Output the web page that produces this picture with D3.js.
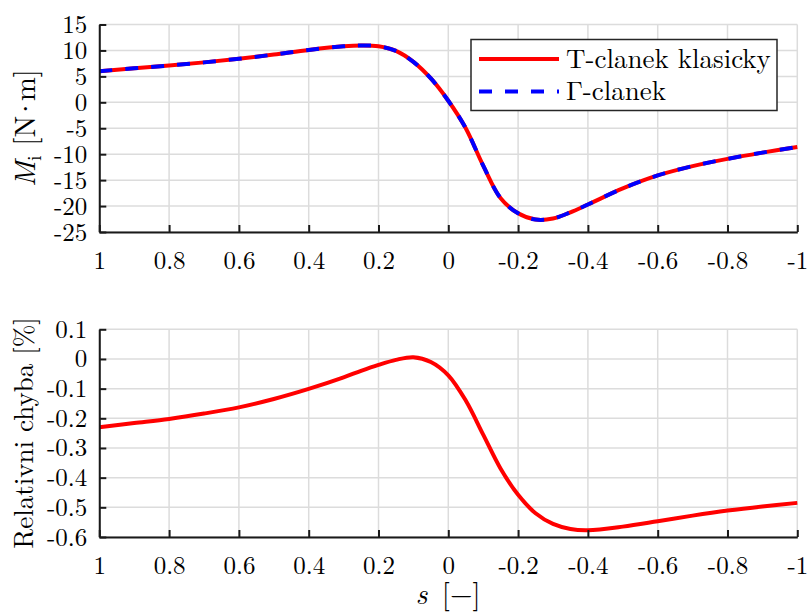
<!DOCTYPE html>
<html><head><meta charset="utf-8">
<script src="https://cdn.jsdelivr.net/npm/d3@7"></script>
</head>
<body style="margin:0;background:#fff">
<svg id="c" width="808" height="612"></svg>
<script>
// ---- data ----
const sValues = [1, 0.9, 0.8, 0.7, 0.6, 0.5, 0.4, 0.3, 0.25, 0.2, 0.15, 0.1, 0.05, 0, -0.05, -0.1, -0.15, -0.2, -0.25, -0.3, -0.35, -0.4, -0.5, -0.6, -0.7, -0.8, -0.9, -1];
const mT = [6.0, 6.55, 7.1, 7.7, 8.4, 9.2, 10.1, 10.8, 10.95, 10.8, 9.9, 7.8, 4.6, 0.3, -5.0, -12.2, -18.5, -21.4, -22.6, -22.4, -21.2, -19.7, -16.6, -14.1, -12.3, -10.9, -9.7, -8.6];
const mGamma = [6.0, 6.55, 7.1, 7.7, 8.4, 9.2, 10.1, 10.8, 10.95, 10.8, 9.9, 7.8, 4.6, 0.3, -5.0, -12.2, -18.5, -21.4, -22.6, -22.4, -21.2, -19.7, -16.6, -14.1, -12.3, -10.9, -9.7, -8.6];
const relErr = [-0.230, -0.216, -0.202, -0.184, -0.163, -0.135, -0.101, -0.062, -0.040, -0.020, -0.003, 0.006, -0.010, -0.055, -0.140, -0.255, -0.370, -0.458, -0.520, -0.556, -0.573, -0.577, -0.565, -0.547, -0.528, -0.511, -0.497, -0.485];
const xTicks = [1, 0.8, 0.6, 0.4, 0.2, 0, -0.2, -0.4, -0.6, -0.8, -1];
const yTicksTop = [15, 10, 5, 0, -5, -10, -15, -20, -25];
const yTicksBot = [0.1, 0, -0.1, -0.2, -0.3, -0.4, -0.5, -0.6];
const legendLabels = ["T-clanek klasicky", "\u0393-clanek"];

const LM = '"Latin Modern Roman"';
const svg = d3.select("#c");
const x = d3.scaleLinear().domain([1, -1]).range([99.3, 797.3]);
const yTop = d3.scaleLinear().domain([-25, 15]).range([232, 24.5]);
const yBot = d3.scaleLinear().domain([-0.6, 0.1]).range([537, 329.3]);

const fmt = d => (d === 0 ? "0" : String(+d.toFixed(2)));
const gridColor = "#dcdcdc";
const axisColor = "#1a1a1a";

function panel(y, yTicks) {
  const g = svg.append("g");
  const [y0, y1] = y.range();
  g.selectAll(".vg").data(xTicks).join("line")
    .attr("x1", d => x(d)).attr("x2", d => x(d))
    .attr("y1", y1).attr("y2", y0)
    .attr("stroke", gridColor).attr("stroke-width", 1.5);
  g.selectAll(".hg").data(yTicks).join("line")
    .attr("x1", x.range()[0]).attr("x2", x.range()[1])
    .attr("y1", d => y(d)).attr("y2", d => y(d))
    .attr("stroke", gridColor).attr("stroke-width", 1.5);
  return g;
}

function axes(y, yTicks) {
  const [y0] = y.range();
  const gx = svg.append("g").attr("transform", `translate(0,${y0})`)
    .call(d3.axisBottom(x).tickValues(xTicks).tickFormat(fmt).tickSizeInner(-7).tickSizeOuter(0).tickPadding(19));
  const gy = svg.append("g").attr("transform", `translate(${x.range()[0]},0)`)
    .call(d3.axisLeft(y).tickValues(yTicks).tickFormat(fmt).tickSizeInner(-7).tickSizeOuter(0).tickPadding(12));
  [gx, gy].forEach(g => {
    g.attr("font-family", LM).attr("font-size", 25);
    g.select(".domain").attr("stroke", axisColor).attr("stroke-width", 2);
    g.selectAll(".tick line").attr("stroke", axisColor).attr("stroke-width", 2);
    g.selectAll(".tick text").attr("fill", "#000");
  });
}

const idx = d3.range(sValues.length);
const curve = d3.curveCatmullRom.alpha(0.5);

// ---- top panel ----
panel(yTop, yTicksTop);
const lineTop = arr => d3.line().x(i => x(sValues[i])).y(i => yTop(arr[i])).curve(curve)(idx);
svg.append("path").attr("d", lineTop(mT)).attr("fill", "none").attr("stroke", "#ff0000").attr("stroke-width", 4);
svg.append("path").attr("d", lineTop(mGamma)).attr("fill", "none").attr("stroke", "#0000ff").attr("stroke-width", 4).attr("stroke-dasharray", "13,13");
axes(yTop, yTicksTop);

// legend
const lg = svg.append("g");
lg.append("rect").attr("x", 471).attr("y", 39.5).attr("width", 306).attr("height", 71)
  .attr("fill", "#fff").attr("stroke", "#262626").attr("stroke-width", 1.5);
const rows = [59, 91.5];
lg.append("line").attr("x1", 479).attr("x2", 559).attr("y1", rows[0]).attr("y2", rows[0]).attr("stroke", "#ff0000").attr("stroke-width", 4);
lg.append("line").attr("x1", 479).attr("x2", 559).attr("y1", rows[1]).attr("y2", rows[1]).attr("stroke", "#0000ff").attr("stroke-width", 4).attr("stroke-dasharray", "13,13");
legendLabels.forEach((t, i) => {
  lg.append("text").attr("x", 566).attr("y", rows[i] + 8.5).attr("font-family", LM).attr("font-size", 27).attr("fill", "#000").text(t);
});

// y label top
const yl1 = svg.append("text").attr("transform", "translate(35,128) rotate(-90)").attr("text-anchor", "middle").attr("font-family", LM).attr("font-size", 29).attr("fill", "#000");
yl1.append("tspan").attr("font-style", "italic").text("M");
yl1.append("tspan").attr("dy", 6).attr("font-size", 20).text("i");
yl1.append("tspan").attr("dy", -6).text(" [N");
yl1.append("tspan").attr("dx", -4).text("\u00B7");
yl1.append("tspan").attr("dx", -4).text("m]");

// ---- bottom panel ----
panel(yBot, yTicksBot);
const lineBot = d3.line().x(i => x(sValues[i])).y(i => yBot(relErr[i])).curve(curve)(idx);
svg.append("path").attr("d", lineBot).attr("fill", "none").attr("stroke", "#ff0000").attr("stroke-width", 4);
axes(yBot, yTicksBot);

svg.append("text").attr("transform", "translate(33,433) rotate(-90)").attr("text-anchor", "middle").attr("font-family", LM).attr("font-size", 27).attr("fill", "#000").text("Relativni chyba [%]");

// x label
const xl = svg.append("text").attr("x", 448).attr("y", 604).attr("text-anchor", "middle").attr("font-family", LM).attr("font-size", 29).attr("fill", "#000");
xl.append("tspan").attr("font-style", "italic").text("s");
xl.append("tspan").text("\u2002[\u2212]");
</script>
</body></html>
